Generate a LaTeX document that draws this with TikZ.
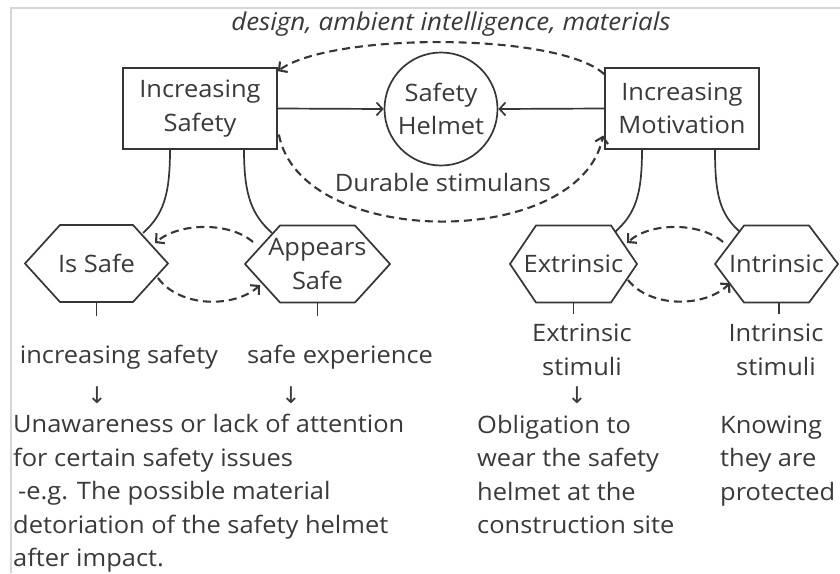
\documentclass[tikz,border=0pt]{standalone}
\usepackage{fontspec}
\setmainfont{Open Sans}[FakeStretch=1.06]
\newfontfamily\symf{DejaVu Sans}
\usetikzlibrary{arrows.meta,calc}
\definecolor{ink}{HTML}{363636}
\definecolor{txt}{HTML}{3A3A3A}
\definecolor{framec}{HTML}{D6D6D6}
\newcommand\hexat[3]{%
  \draw[link] ($(#1.center)+(-#2,0)$) -- ($(#1.center)+(-#2+#3,-38.5)$) -- ($(#1.center)+(#2-#3,-38.5)$) -- ($(#1.center)+(#2,0)$) -- ($(#1.center)+(#2-#3,38.5)$) -- ($(#1.center)+(-#2+#3,38.5)$) -- cycle;}
\begin{document}
\begin{tikzpicture}[x=1pt,y=-1pt,
  every node/.style={text=txt, font=\fontsize{24}{33.5}\selectfont},
  box/.style={draw=ink, line width=1.7pt, minimum width=154pt, minimum height=81pt, align=center, inner sep=0pt},
  helmet/.style={draw=ink, circle, line width=1.7pt, minimum size=113pt, inner sep=0pt, align=center},
  hexlabel/.style={inner sep=0pt, align=center},
  link/.style={draw=ink, line width=1.7pt},
  arr/.style={link, -{Straight Barb[length=6pt,width=13pt]}},
  darr/.style={arr, dash pattern=on 8pt off 5pt, line width=2.1pt},
  para/.style={inner sep=0pt, align=left, anchor=north west},
  col/.style={inner sep=0pt, align=center, anchor=north},
  down/.style={inner sep=0pt, font=\symf\fontsize{23}{25}\selectfont},
]
\useasboundingbox (0,0) rectangle (840,573);
\fill[white] (0,0) rectangle (840,573);
\draw[framec, line width=2pt] (11,573) -- (11,8) -- (840,8);

% top row
\node[box] (safety) at (200,108.5) {Increasing\\Safety};
\node[box] (motiv) at (682,108.5) {Increasing\\Motivation};
\node[helmet] (helmet) at (441,109) {Safety\\Helmet};
\draw[arr] (safety.east) -- (helmet.west);
\draw[arr] (motiv.west) -- (helmet.east);

\node[inner sep=0pt, anchor=base, font=\itshape\fontsize{24.5}{28}\selectfont] (design) at (451,30) {design, ambient intelligence, materials};
\node[inner sep=0pt] (durable) at (443,182) {Durable stimulans};

\draw[darr] ($(motiv.north west)+(0,7)$) .. controls +(-45,-42) and +(53,-39) .. ($(safety.north east)+(0,4)$);
\draw[darr] ($(safety.east)+(1,26)$) .. controls +(22,115) and +(-24,115) .. ($(motiv.west)+(-1,27)$);

% hexagons
\node[hexlabel] (issafe) at (96.5,263.5) {Is Safe};
\node[hexlabel] (appears) at (317.5,264) {Appears\\Safe};
\node[hexlabel] (extr) at (573.5,264) {Extrinsic};
\node[hexlabel] (intr) at (776.5,264) {Intrinsic};
\hexat{issafe}{71.5}{35}
\hexat{appears}{72.5}{35}
\hexat{extr}{63.5}{26}
\hexat{intr}{61.5}{29}

% solid branches
\draw[link] ($(safety.south)+(-30,0)$) .. controls +(0,46) and +(20,-18) .. ($(issafe.center)+(46.5,-30.5)$);
\draw[link] ($(safety.south)+(44,0)$) .. controls +(0,46) and +(-20,-18) .. ($(appears.center)+(-45.5,-31)$);
\draw[link] ($(motiv.south)+(-40,0)$) .. controls +(0,46) and +(20,-18) .. ($(extr.center)+(41.5,-32)$);
\draw[link] ($(motiv.south)+(33,0)$) .. controls +(0,46) and +(-20,-18) .. ($(intr.center)+(-36.5,-32)$);

% dashed pairs
\draw[darr] ($(appears.center)+(-64.5,-22)$) .. controls +(-23,-20) and +(25,-21) .. ($(issafe.center)+(58.5,-20.5)$);
\draw[darr] ($(issafe.center)+(61.5,14.5)$) .. controls +(22,30) and +(-25,23) .. ($(appears.center)+(-57.5,21)$);
\draw[darr] ($(intr.center)+(-53.5,-22)$) .. controls +(-23,-20) and +(23,-21) .. ($(extr.center)+(53.5,-21)$);
\draw[darr] ($(extr.center)+(54.5,16)$) .. controls +(22,28) and +(-25,25) .. ($(intr.center)+(-46.5,19)$);

% ticks
\coordinate (t1) at ($(issafe.center)+(0,52.5)$);
\coordinate (t2) at ($(appears.center)+(0,52)$);
\coordinate (t3) at ($(extr.center)+(0,50)$);
\coordinate (t4) at ($(intr.center)+(2.5,50)$);
\draw[link] ($(issafe.center)+(0,38.5)$) -- (t1);
\draw[link] ($(appears.center)+(0,38.5)$) -- (t2);
\draw[link] ($(extr.center)+(0,38.5)$) -- (t3);
\draw[link] ($(intr.center)+(2.5,38.5)$) -- (t4);

% lower texts
\node[inner sep=0pt, anchor=base] (inc) at (119,363) {increasing safety};
\node[inner sep=0pt, anchor=base] (exp) at (340,363) {safe experience};
\node[down] (d1) at (97,395) {↓};
\node[down] (d2) at (291,395) {↓};
\node[para] (unaware) at (13,414) {Unawareness or lack of attention\\for certain safety issues\\\hspace*{5pt}-e.g. The possible material\\detoriation of the safety helmet\\after impact.};

\node[col] (extstim) at (582,324) {Extrinsic\\stimuli};
\node[col] (intstim) at (776,324) {Intrinsic\\stimuli};
\node[down] (d3) at (577,395) {↓};
\node[para] (oblig) at (477,415) {Obligation to\\wear the safety\\helmet at the\\construction site};
\node[para] (know) at (720,415.5) {Knowing\\they are\\protected};
\end{tikzpicture}
\end{document}
